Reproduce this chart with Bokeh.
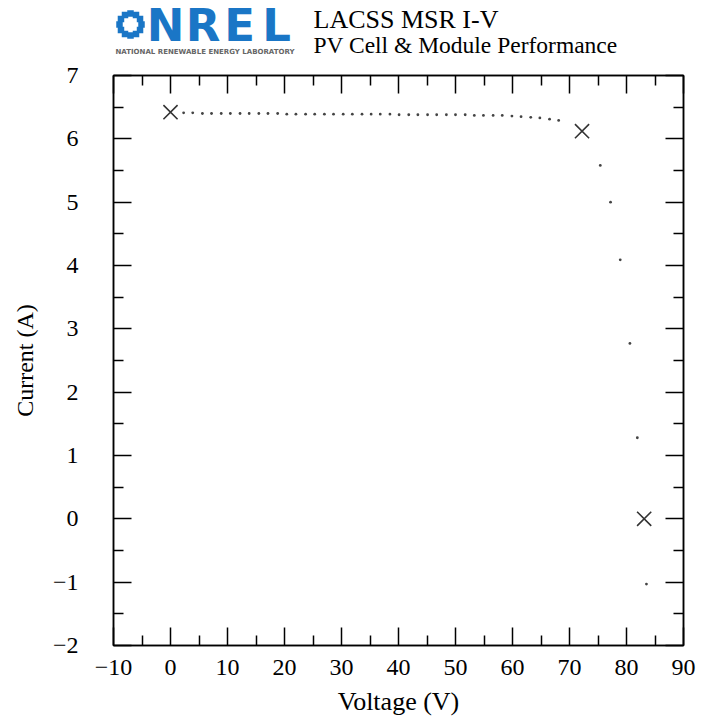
import math
from bokeh.plotting import figure
from bokeh.models import Range1d, FixedTicker, LinearAxis
from bokeh.layouts import column
from bokeh.core.properties import value
from bokeh.embed import file_html
from bokeh.resources import INLINE

# ---------------- data ----------------
voltage = [2.3, 3.9, 5.6, 7.2, 8.9, 10.5, 12.2, 13.8, 15.5, 17.1, 18.8,
           20.4, 22.0, 23.7, 25.3, 27.0, 28.6, 30.3, 31.9, 33.6, 35.2, 36.8, 38.5,
           40.1, 41.8, 43.4, 45.1, 46.7, 48.4, 50.0, 51.7,
           53.3, 54.9, 56.6, 58.2,
           59.9, 61.5, 63.2, 64.8, 66.5, 68.1,
           75.4, 77.2, 78.9, 80.6, 81.9, 83.5]
current = [6.41, 6.41, 6.40, 6.40, 6.40, 6.40, 6.40, 6.40, 6.40, 6.40, 6.40,
           6.39, 6.39, 6.39, 6.39, 6.39, 6.39, 6.39, 6.39, 6.39, 6.39, 6.39, 6.39,
           6.38, 6.38, 6.38, 6.38, 6.38, 6.38, 6.38, 6.38,
           6.37, 6.37, 6.37, 6.37,
           6.36, 6.35, 6.34, 6.33, 6.31, 6.29,
           5.58, 5.00, 4.09, 2.77, 1.28, -1.03]

# key points: Isc, max power point, Voc
key_voltage = [0.0, 72.2, 83.1]
key_current = [6.42, 6.12, 0.0]

x_ticks = [-10, 0, 10, 20, 30, 40, 50, 60, 70, 80, 90]
x_minor = [-5, 5, 15, 25, 35, 45, 55, 65, 75, 85]
y_ticks = [-2, -1, 0, 1, 2, 3, 4, 5, 6, 7]
y_minor = [-1.5, -0.5, 0.5, 1.5, 2.5, 3.5, 4.5, 5.5, 6.5]

title_line1 = "LACSS MSR I-V"
title_line2 = "PV Cell & Module Performance"
logo_text = ["N", "R", "E", "L"]
logo_sub = "NATIONAL RENEWABLE ENERGY LABORATORY"

SERIF = "Liberation Serif"
BLUE = "#1a76c6"

W = 700
LEFT = 113
RIGHT = 17
HH = 63

# ---------------- header ----------------
hdr = figure(width=W, height=HH, output_backend="svg", toolbar_location=None,
             x_range=Range1d(LEFT, W - RIGHT), y_range=Range1d(HH, 0),
             x_axis_type=None, y_axis_type=None)
hdr.min_border_left = LEFT
hdr.min_border_right = RIGHT
hdr.min_border_top = 0
hdr.min_border_bottom = 0
hdr.outline_line_color = None
hdr.grid.visible = False

# logo icon: ring of squares
cx, cy, r = 130, 24, 11
sx, sy = [], []
for k in range(12):
    a = 2 * math.pi * k / 12
    sx.append(cx + r * math.cos(a))
    sy.append(cy + r * math.sin(a))
hdr.rect(sx, sy, width=6.5, height=6.5, fill_color=BLUE, line_color=None)

hdr.text([165, 202.5, 239, 276], [25, 25, 25, 25], text=logo_text,
         text_font=value("DejaVu Sans"), text_font_style="bold",
         text_font_size="45px", text_color=BLUE,
         text_align="center", text_baseline="alphabetic")
hdr.text([115], [51], text=[logo_sub], text_font=value("DejaVu Sans"),
         text_font_style="bold", text_font_size="7px", text_color="#666666",
         text_align="left", text_baseline="alphabetic")
hdr.text([313], [19], text=[title_line1], text_font=value(SERIF),
         text_font_size="26px", text_color="black",
         text_align="left", text_baseline="alphabetic")
hdr.text([313], [44], text=[title_line2], text_font=value(SERIF),
         text_font_size="23.5px", text_color="black",
         text_align="left", text_baseline="alphabetic")

# ---------------- main plot ----------------
p = figure(width=W, height=655, output_backend="svg", toolbar_location=None,
           x_range=Range1d(-10, 90), y_range=Range1d(-2, 7),
           x_axis_label="Voltage (V)", y_axis_label="Current (A)")
p.min_border_left = LEFT
p.min_border_bottom = 70
p.min_border_top = 12
p.min_border_right = RIGHT
p.grid.visible = False
p.outline_line_color = "black"
p.outline_line_width = 1.5
p.background_fill_color = "white"
p.border_fill_color = "white"

bottom = p.below[0]
left = p.left[0]
bottom.ticker = FixedTicker(ticks=x_ticks, minor_ticks=x_minor)
left.ticker = FixedTicker(ticks=y_ticks, minor_ticks=y_minor)

top = LinearAxis(ticker=FixedTicker(ticks=x_ticks, minor_ticks=x_minor),
                 major_label_overrides={t: "" for t in x_ticks})
right = LinearAxis(ticker=FixedTicker(ticks=y_ticks, minor_ticks=y_minor),
                   major_label_overrides={t: "" for t in y_ticks})
p.add_layout(top, "above")
p.add_layout(right, "right")

for ax in [bottom, left, top, right]:
    ax.axis_line_color = "black"
    ax.axis_line_width = 1.5
    ax.major_tick_line_color = "black"
    ax.major_tick_line_width = 1.5
    ax.minor_tick_line_color = "black"
    ax.minor_tick_line_width = 1.5
    ax.major_tick_in = 18
    ax.major_tick_out = 0
    ax.minor_tick_in = 10
    ax.minor_tick_out = 0
    ax.major_label_text_font = SERIF
    ax.major_label_text_font_size = "24px"
    ax.major_label_text_color = "black"
    ax.axis_label_text_font = SERIF
    ax.axis_label_text_font_style = "normal"
    ax.axis_label_text_color = "black"

for ax in [top, right]:
    ax.major_label_standoff = 0

bottom.major_label_standoff = 14
bottom.axis_label_standoff = 9
bottom.axis_label_text_font_size = "26px"
left.major_label_standoff = 35
left.axis_label_standoff = 12
left.axis_label_text_font_size = "24px"

p.scatter(voltage, current, marker="circle", size=2.8,
          fill_color="#444444", line_color=None)
p.scatter(key_voltage, key_current, marker="x", size=20,
          line_color="#333333", line_width=1.6)

layout = column(hdr, p)
open("out.html", "w").write(file_html(layout, INLINE))
